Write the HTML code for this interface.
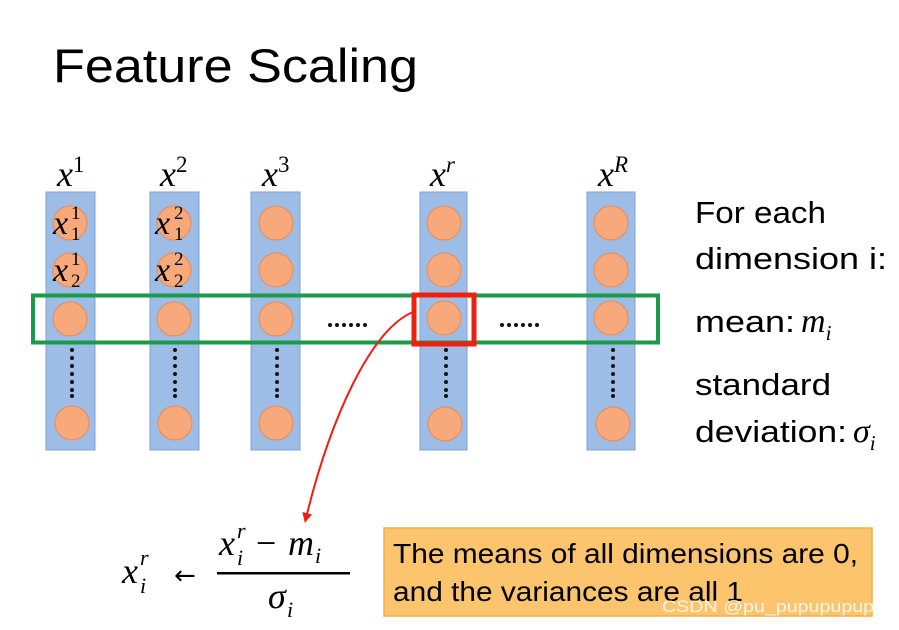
<!DOCTYPE html>
<html><head><meta charset="utf-8"><style>
html,body{margin:0;padding:0;background:#fff;}
svg{display:block;}
.t{font-family:"Liberation Sans",sans-serif;fill:#000;}
.m{font-family:"Liberation Serif","DejaVu Serif",serif;font-style:italic;fill:#000;}
</style></head><body>
<svg width="899" height="630" viewBox="0 0 899 630" xmlns="http://www.w3.org/2000/svg">
<defs>
<marker id="ah" markerWidth="10" markerHeight="10" refX="5" refY="5" orient="auto" markerUnits="userSpaceOnUse"><path d="M0,0 L10,5 L0,10 z" fill="#f02010"/></marker>
<g id="vd" fill="#111"><circle cx="0" cy="350" r="2"/><circle cx="0" cy="358" r="2"/><circle cx="0" cy="366" r="2"/><circle cx="0" cy="374" r="2"/><circle cx="0" cy="382" r="2"/><circle cx="0" cy="390" r="2"/><circle cx="0" cy="396" r="2"/></g>
</defs>
<text x="53" y="82" class="t" font-size="47" textLength="365" lengthAdjust="spacingAndGlyphs">Feature Scaling</text>
<g fill="#9dbde6" stroke="#7fa2d6" stroke-width="1">
<rect x="46" y="192" width="49" height="258"/>
<rect x="150" y="192" width="49" height="258"/>
<rect x="251" y="192" width="49" height="258"/>
<rect x="420" y="192" width="47" height="258"/>
<rect x="587" y="192" width="48" height="258"/>
</g>
<g fill="#f7a97c" stroke="#e98a55" stroke-width="1">
<circle cx="70" cy="223" r="17"/><circle cx="70" cy="270" r="17"/><circle cx="70" cy="319" r="17"/><circle cx="72" cy="423" r="17"/>
<circle cx="174" cy="223" r="17"/><circle cx="174" cy="270" r="17"/><circle cx="174" cy="319" r="17"/><circle cx="175" cy="423" r="17"/>
<circle cx="276" cy="223" r="17"/><circle cx="276" cy="270" r="17"/><circle cx="276" cy="319" r="17"/><circle cx="276" cy="423" r="17"/>
<circle cx="444" cy="223" r="17"/><circle cx="444" cy="270" r="17"/><circle cx="444" cy="318" r="17"/><circle cx="445" cy="424" r="17"/>
<circle cx="611" cy="223" r="17"/><circle cx="611" cy="270" r="17"/><circle cx="611" cy="318" r="17"/><circle cx="613" cy="424" r="17"/>
</g>
<use href="#vd" x="72"/><use href="#vd" x="175"/><use href="#vd" x="277"/><use href="#vd" x="446"/><use href="#vd" x="613"/>
<g fill="#111">
<circle cx="330" cy="325" r="2"/><circle cx="337" cy="325" r="2"/><circle cx="344" cy="325" r="2"/><circle cx="351" cy="325" r="2"/><circle cx="358" cy="325" r="2"/><circle cx="365" cy="325" r="2"/>
<circle cx="502" cy="325" r="2"/><circle cx="509" cy="325" r="2"/><circle cx="516" cy="325" r="2"/><circle cx="523" cy="325" r="2"/><circle cx="530" cy="325" r="2"/><circle cx="537" cy="325" r="2"/>
</g>
<rect x="33" y="295.5" width="625" height="47" fill="none" stroke="#1a9a4a" stroke-width="4"/>
<rect x="414" y="295" width="60" height="49" fill="none" stroke="#f02010" stroke-width="5"/>
<path d="M413,312 C370,330 330,420 306,518" fill="none" stroke="#f02010" stroke-width="2" marker-end="url(#ah)"/>
<g class="m" font-size="36">
<text x="57" y="186">x<tspan font-size="23" dy="-14" font-style="normal">1</tspan></text>
<text x="160" y="186">x<tspan font-size="23" dy="-14" font-style="normal">2</tspan></text>
<text x="262" y="186">x<tspan font-size="23" dy="-14" font-style="normal">3</tspan></text>
<text x="430" y="186">x<tspan font-size="23" dy="-14">r</tspan></text>
<text x="598" y="186">x<tspan font-size="23" dy="-14">R</tspan></text>
</g>
<g class="m" font-size="34">
<text x="53" y="234">x</text><text x="71" y="219" font-size="19" font-style="normal">1</text><text x="71" y="240" font-size="19" font-style="normal">1</text>
<text x="53" y="281">x</text><text x="71" y="265" font-size="19" font-style="normal">1</text><text x="71" y="287" font-size="19" font-style="normal">2</text>
<text x="155" y="234">x</text><text x="174" y="219" font-size="19" font-style="normal">2</text><text x="174" y="240" font-size="19" font-style="normal">1</text>
<text x="155" y="281">x</text><text x="174" y="265" font-size="19" font-style="normal">2</text><text x="174" y="287" font-size="19" font-style="normal">2</text>
</g>
<g class="t" font-size="31">
<text x="695" y="223" textLength="131" lengthAdjust="spacingAndGlyphs">For each</text>
<text x="695" y="269" textLength="192" lengthAdjust="spacingAndGlyphs">dimension i:</text>
<text x="695" y="332"><tspan textLength="100" lengthAdjust="spacingAndGlyphs">mean:</tspan><tspan class="m" font-size="34" dx="6">m</tspan><tspan class="m" font-size="21" dy="8">i</tspan></text>
<text x="695" y="395" textLength="136" lengthAdjust="spacingAndGlyphs">standard</text>
<text x="695" y="442"><tspan textLength="152" lengthAdjust="spacingAndGlyphs">deviation:</tspan><tspan class="m" font-size="34" dx="6">σ</tspan><tspan class="m" font-size="21" dy="8">i</tspan></text>
</g>
<g class="m" font-size="36">
<text x="122" y="583">x</text><text x="140" y="565" font-size="22">r</text><text x="140" y="593" font-size="22">i</text>
<text x="174" y="584" font-style="normal" font-family="DejaVu Sans" font-size="26">←</text>
<text x="219" y="555">x</text><text x="237" y="538" font-size="22">r</text><text x="237" y="565" font-size="22">i</text>
<text x="256" y="555" font-style="normal">−</text>
<text x="288" y="555">m</text><text x="315" y="563" font-size="22">i</text>
<rect x="217" y="572" width="133" height="2.5" fill="#000"/>
<text x="268" y="608">σ</text><text x="287" y="617" font-size="22">i</text>
</g>
<rect x="384" y="528" width="488" height="88" fill="#fbc46d" stroke="#f4ae47" stroke-width="1.5"/>
<g class="t" font-size="28">
<text x="393" y="563" textLength="465" lengthAdjust="spacingAndGlyphs">The means of all dimensions are 0,</text>
<text x="393" y="601" textLength="350" lengthAdjust="spacingAndGlyphs">and the variances are all 1</text>
</g>
<text x="662" y="612" class="t" font-size="17" style="fill:#ffffff;opacity:0.85" textLength="223" lengthAdjust="spacingAndGlyphs">CSDN @pu_pupupupupu</text>
</svg>
</body></html>
